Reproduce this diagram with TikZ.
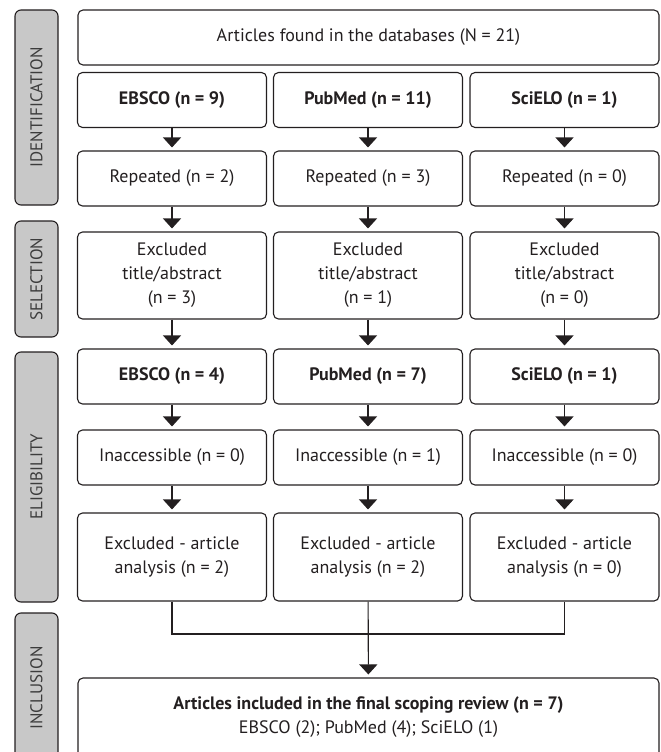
\documentclass[tikz,border=0pt]{standalone}
\usepackage{fontspec}
\setmainfont{PT Sans}
\usetikzlibrary{arrows.meta}
\definecolor{ink}{RGB}{35,31,32}
\definecolor{barfill}{RGB}{200,200,200}
\definecolor{bartext}{RGB}{60,60,60}

\begin{document}
\begin{tikzpicture}[x=1pt,y=-1pt,
  box/.style={draw=ink, text=ink, rounded corners=5pt, line width=1.1pt, minimum width=189pt, minimum height=55pt, inner sep=0pt, align=center, font=\fontsize{18}{24}\selectfont},
  tallbox/.style={box, minimum height=87pt},
  bar/.style={draw=ink, fill=barfill, text=bartext, rounded corners=6pt, line width=1.1pt, minimum height=43pt, inner sep=0pt, rotate=90, font=\fontsize{17}{20}\selectfont},
  arr/.style={draw=ink, -{Triangle[width=18pt,length=10pt]}, line width=1.1pt, shorten >=3pt},
  link/.style={draw=ink, line width=1.1pt}]
\useasboundingbox (0,0) rectangle (661,752);
\clip (0,0) rectangle (661,752);

% stages
\node[bar, minimum width=195pt] (ident) at (36.5,107.5) {IDENTIFICATION};
\node[bar, minimum width=116pt] (select) at (36.5,279) {SELECTION};
\node[bar, minimum width=250pt] (elig) at (36.5,477) {ELIGIBILITY};
\node[bar, minimum width=150pt] (incl) at (36.5,688) {INCLUSION};

% identification
\node[box, minimum width=581pt] (found) at (368.5,37.5) {Articles found in the databases (N = 21)};
\node[box] (ebsco) at (172,100) {\textbf{EBSCO (n = 9)}};
\node[box] (pubmed) at (368,100) {\textbf{PubMed (n = 11)}};
\node[box] (scielo) at (564.5,100) {\textbf{SciELO (n = 1)}};
\node[box] (rep1) at (172,178.5) {Repeated (n = 2)};
\node[box] (rep2) at (368,178.5) {Repeated (n = 3)};
\node[box] (rep3) at (564.5,178.5) {Repeated (n = 0)};

% selection
\node[tallbox] (tit1) at (172,275.5) {Excluded\\title/abstract\\(n = 3)};
\node[tallbox] (tit2) at (368,275.5) {Excluded\\title/abstract\\(n = 1)};
\node[tallbox] (tit3) at (564.5,275.5) {Excluded\\title/abstract\\(n = 0)};

% eligibility
\node[box] (ebsco2) at (172,376.5) {\textbf{EBSCO (n = 4)}};
\node[box] (pubmed2) at (368,376.5) {\textbf{PubMed (n = 7)}};
\node[box] (scielo2) at (564.5,376.5) {\textbf{SciELO (n = 1)}};
\node[box] (acc1) at (172,457.5) {Inaccessible (n = 0)};
\node[box] (acc2) at (368,457.5) {Inaccessible (n = 1)};
\node[box] (acc3) at (564.5,457.5) {Inaccessible (n = 0)};
\node[tallbox, minimum height=88pt] (ana1) at (172,557) {Excluded - article\\analysis (n = 2)};
\node[tallbox, minimum height=88pt] (ana2) at (368,557) {Excluded - article\\analysis (n = 2)};
\node[tallbox, minimum height=88pt] (ana3) at (564.5,557) {Excluded - article\\analysis (n = 0)};

% inclusion
\node[box, minimum width=581pt, minimum height=79pt] (final) at (368.5,717.5) {\textbf{Articles included in the final scoping review (n = 7)}\\EBSCO (2); PubMed (4); SciELO (1)};

\draw[arr] (ebsco) -- (rep1);
\draw[arr] (pubmed) -- (rep2);
\draw[arr] (scielo) -- (rep3);
\draw[arr] (rep1) -- (tit1);
\draw[arr] (rep2) -- (tit2);
\draw[arr] (rep3) -- (tit3);
\draw[arr] (tit1) -- (ebsco2);
\draw[arr] (tit2) -- (pubmed2);
\draw[arr] (tit3) -- (scielo2);
\draw[arr] (ebsco2) -- (acc1);
\draw[arr] (pubmed2) -- (acc2);
\draw[arr] (scielo2) -- (acc3);
\draw[arr] (acc1) -- (ana1);
\draw[arr] (acc2) -- (ana2);
\draw[arr] (acc3) -- (ana3);

\coordinate (join) at (368,634);
\draw[link] (ana1.south) |- (join) -| (ana3.south);
\draw[arr] (ana2) -- (final);

\end{tikzpicture}
\end{document}
